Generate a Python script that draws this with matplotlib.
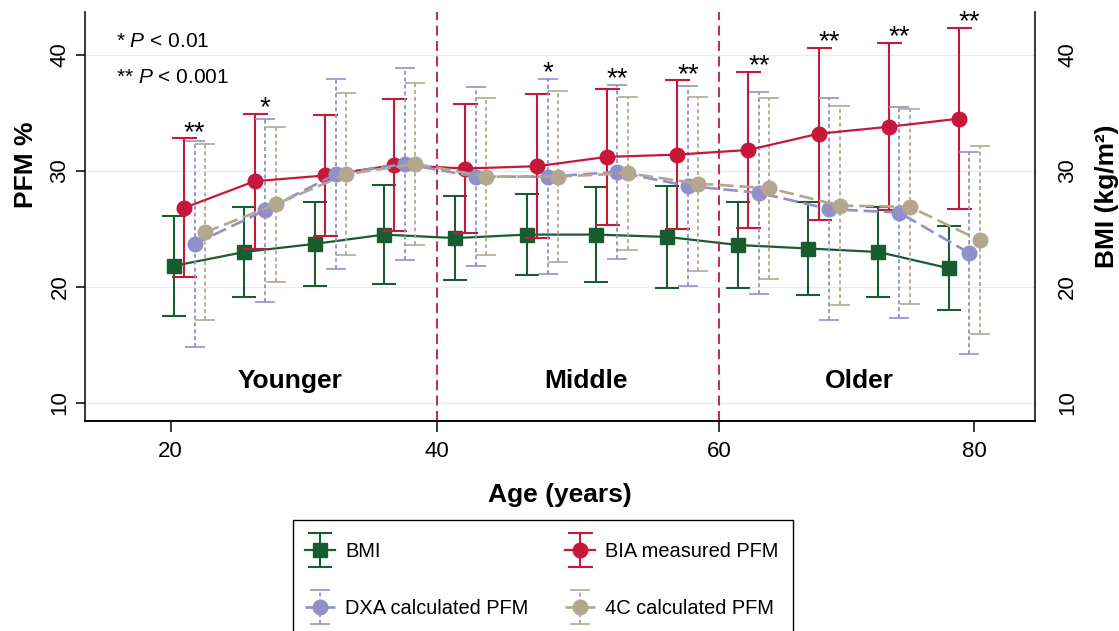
import numpy as np
import matplotlib
matplotlib.use("Agg")
import matplotlib.pyplot as plt
from matplotlib.patches import Rectangle
from matplotlib.transforms import ScaledTranslation
from matplotlib.container import ErrorbarContainer
from matplotlib.legend_handler import HandlerErrorbar

plt.rcParams["font.family"] = ["Liberation Sans", "DejaVu Sans"]
plt.rcParams["mathtext.fontset"] = "custom"
plt.rcParams["mathtext.rm"] = "Liberation Sans"
plt.rcParams["mathtext.it"] = "Liberation Sans:italic"
plt.rcParams["mathtext.bf"] = "Liberation Sans:bold"

# ---- data: mean age of each 5-year group, means and SDs -------------------
age = [21.4, 26.7, 32.0, 37.2, 42.4, 47.5, 52.4, 57.4, 62.7, 68.2, 73.7, 79.2]
bmi_mean = [21.8, 23.0, 23.7, 24.5, 24.2, 24.5, 24.5, 24.3, 23.6, 23.3, 23.0, 21.6]
bmi_sd = [4.3, 3.9, 3.6, 4.3, 3.6, 3.5, 4.1, 4.4, 3.7, 4.0, 3.9, 3.6]
bia_mean = [26.8, 29.1, 29.6, 30.5, 30.2, 30.4, 31.2, 31.4, 31.8, 33.2, 33.8, 34.5]
bia_sd = [6.0, 5.8, 5.2, 5.7, 5.6, 6.2, 5.9, 6.4, 6.7, 7.4, 7.2, 7.8]
dxa_mean = [23.7, 26.6, 29.7, 30.6, 29.5, 29.5, 29.9, 28.7, 28.1, 26.7, 26.4, 22.9]
dxa_sd = [8.9, 7.9, 8.2, 8.3, 7.7, 8.4, 7.5, 8.6, 8.7, 9.6, 9.1, 8.7]
c4_mean = [24.7, 27.1, 29.7, 30.6, 29.5, 29.5, 29.8, 28.9, 28.5, 27.0, 26.9, 24.0]
c4_sd = [7.6, 6.7, 7.0, 7.0, 6.8, 7.4, 6.6, 7.5, 7.8, 8.6, 8.4, 8.1]
significance = ["**", "*", "", "", "", "*", "**", "**", "**", "**", "**", "**"]

age_ticks = [20, 40, 60, 80]
value_ticks = [10, 20, 30, 40]
group_cuts = [40, 60]
group_names = ["Younger", "Middle", "Older"]

# ---- piecewise-linear age axis: each 20-year span has its own width -------
span_knots = np.array([20.0, 40.0, 60.0, 80.0])
span_pos = np.concatenate([[0.0], np.cumsum([1.0, 1.062, 0.959])])


def _piecewise(v, xs, ys):
    v = np.asarray(v, dtype=float)
    out = np.interp(v, xs, ys)
    lo_slope = (ys[1] - ys[0]) / (xs[1] - xs[0])
    hi_slope = (ys[-1] - ys[-2]) / (xs[-1] - xs[-2])
    out = np.where(v < xs[0], ys[0] + (v - xs[0]) * lo_slope, out)
    out = np.where(v > xs[-1], ys[-1] + (v - xs[-1]) * hi_slope, out)
    return out


def age_forward(v):
    return _piecewise(v, span_knots, span_pos)


def age_inverse(v):
    return _piecewise(v, span_pos, span_knots)


# ---- colours -------------------------------------------------------------
C_BMI = "#185d30"
C_BIA = "#c8183a"
C_DXA = "#9190c9"
C_4C = "#b3a78e"
C_CUT = "#b8325e"

W, H = 1119, 631
fig = plt.figure(figsize=(W / 100, H / 100), dpi=100)
fig.patch.set_facecolor("white")
ax_bmi = fig.add_axes([0.0760, 0.3333, 0.8490, 0.6477])
ax_bmi.set_xscale("function", functions=(age_forward, age_inverse))
ax = ax_bmi.twinx()  # PFM axis drawn on top, BMI axis underneath
ax.yaxis.tick_left()
ax.yaxis.set_label_position("left")
ax_bmi.yaxis.tick_right()
ax_bmi.yaxis.set_label_position("right")
ax.set_zorder(ax_bmi.get_zorder() + 1)
ax.patch.set_visible(False)

ylim = (8.45, 43.7)
xlim = (13.56, 84.76)
for a in (ax, ax_bmi):
    a.set_ylim(*ylim)
    a.set_xlim(*xlim)


def dodge(axis, px):
    return axis.transData + ScaledTranslation(px / fig.dpi, 0, fig.dpi_scale_trans)


OFF_BMI, OFF_BIA, OFF_DXA, OFF_4C = -15.5, -5.3, 5.3, 15.8

eb_bmi = ax_bmi.errorbar(age, bmi_mean, yerr=bmi_sd, fmt="s-", color=C_BMI,
                         ms=10.5, lw=1.6, elinewidth=1.5, capsize=8.5, capthick=1.5,
                         transform=dodge(ax_bmi, OFF_BMI), label="BMI", zorder=3)

eb_bia = ax.errorbar(age, bia_mean, yerr=bia_sd, fmt="o-", color=C_BIA,
                     ms=10.5, lw=1.6, elinewidth=1.5, capsize=9, capthick=1.5,
                     transform=dodge(ax, OFF_BIA), label="BIA measured PFM", zorder=3)

eb_dxa = ax.errorbar(age, dxa_mean, yerr=dxa_sd, fmt="o", color=C_DXA,
                     ms=10.5, ls=(0, (5.5, 2.2)), lw=1.9, elinewidth=1.3,
                     capsize=7, capthick=1.2,
                     transform=dodge(ax, OFF_DXA), label="DXA calculated PFM", zorder=3)

eb_4c = ax.errorbar(age, c4_mean, yerr=c4_sd, fmt="o", color=C_4C,
                    ms=10.5, ls=(0, (5.5, 2.2)), lw=1.9, elinewidth=1.3,
                    capsize=7, capthick=1.2,
                    transform=dodge(ax, OFF_4C), label="4C calculated PFM", zorder=3)

for eb in (eb_dxa, eb_4c):
    eb.lines[0].set_linestyle((0, (5.5, 2.2)))
    for coll in eb.lines[2]:
        coll.set_linestyle((0, (2.2, 1.6)))

# significance marks above the tallest bar of each group
for i, s in enumerate(significance):
    if not s:
        continue
    top = max(bia_mean[i] + bia_sd[i], dxa_mean[i] + dxa_sd[i], c4_mean[i] + c4_sd[i])
    ax.annotate(s, xy=(age[i], top), xycoords="data",
                xytext=(OFF_DXA * 72 / fig.dpi, -1.0), textcoords="offset points",
                ha="center", va="baseline", fontsize=20, color="black")

# group boundaries
for c in group_cuts:
    ax.axvline(c, color=C_CUT, lw=1.5, ls=(0, (4.8, 2.6)), zorder=2)

ax.text(29.0, 11.27, group_names[0], ha="center", va="baseline",
        fontsize=19, fontweight="bold")
ax.text(50.6, 11.27, group_names[1], ha="center", va="baseline",
        fontsize=19, fontweight="bold")
ax.text(71.0, 11.27, group_names[2], ha="center", va="baseline",
        fontsize=19, fontweight="bold")

ax.text(0.0326, 0.915, r"* $P$ < 0.01", transform=ax.transAxes,
        fontsize=15, va="baseline", ha="left")
ax.text(0.0326, 0.826, r"** $P$ < 0.001", transform=ax.transAxes,
        fontsize=15, va="baseline", ha="left")

# ---- axes styling --------------------------------------------------------
ax_bmi.grid(axis="y", color="#e4edf4", lw=1.0)
ax_bmi.set_axisbelow(True)

for a in (ax, ax_bmi):
    a.spines["top"].set_visible(False)
    for sp in a.spines.values():
        sp.set_linewidth(1.1)
ax.spines["right"].set_visible(False)
ax_bmi.spines["left"].set_visible(False)

ax_bmi.set_xticks(age_ticks)
ax_bmi.set_xticklabels([str(t) for t in age_ticks])
ax_bmi.tick_params(axis="x", length=8, width=1.1, pad=6.5, labelsize=16)
ax_bmi.set_xlabel("Age (years)", fontsize=19, fontweight="bold", labelpad=15)

ax.set_yticks(value_ticks)
ax.set_yticklabels([str(t) for t in value_ticks])
ax.tick_params(axis="y", length=6.5, width=1.1, pad=4, labelsize=16, labelrotation=90)
plt.setp(ax.get_yticklabels(), va="center")
ax.set_ylabel("PFM %", fontsize=19, fontweight="bold")
ax.yaxis.set_label_coords(-0.049, 0.626)

ax_bmi.set_yticks(value_ticks)
ax_bmi.set_yticklabels([str(t) for t in value_ticks])
ax_bmi.tick_params(axis="y", length=0, pad=16, labelsize=16, labelrotation=90)
plt.setp(ax_bmi.get_yticklabels(), va="center")
ax_bmi.set_ylabel("BMI (kg/m²)", fontsize=19, fontweight="bold")
ax_bmi.yaxis.set_label_coords(1.063, 0.550)

# ---- legend: framed box below the plot -----------------------------------
box = Rectangle((293 / W, -0.05), 500 / W, (1 - 520 / H) + 0.05,
                transform=fig.transFigure, facecolor="white",
                edgecolor="black", lw=1.0, zorder=1)
fig.add_artist(box)

handles = [eb_bmi, eb_dxa, eb_bia, eb_4c]
labels = [h.get_label() for h in handles]
leg = fig.legend(handles, labels, loc="upper left",
                 bbox_to_anchor=(305 / W, 1 - 542 / H), bbox_transform=fig.transFigure,
                 ncol=2, fontsize=14.4, frameon=False, borderaxespad=0,
                 borderpad=0, handlelength=1.5, handletextpad=0.5,
                 columnspacing=1.85, labelspacing=1.9,
                 handler_map={ErrorbarContainer: HandlerErrorbar(yerr_size=0.85)})
leg.set_zorder(2)

fig.savefig("out.png", dpi=100, facecolor="white")
